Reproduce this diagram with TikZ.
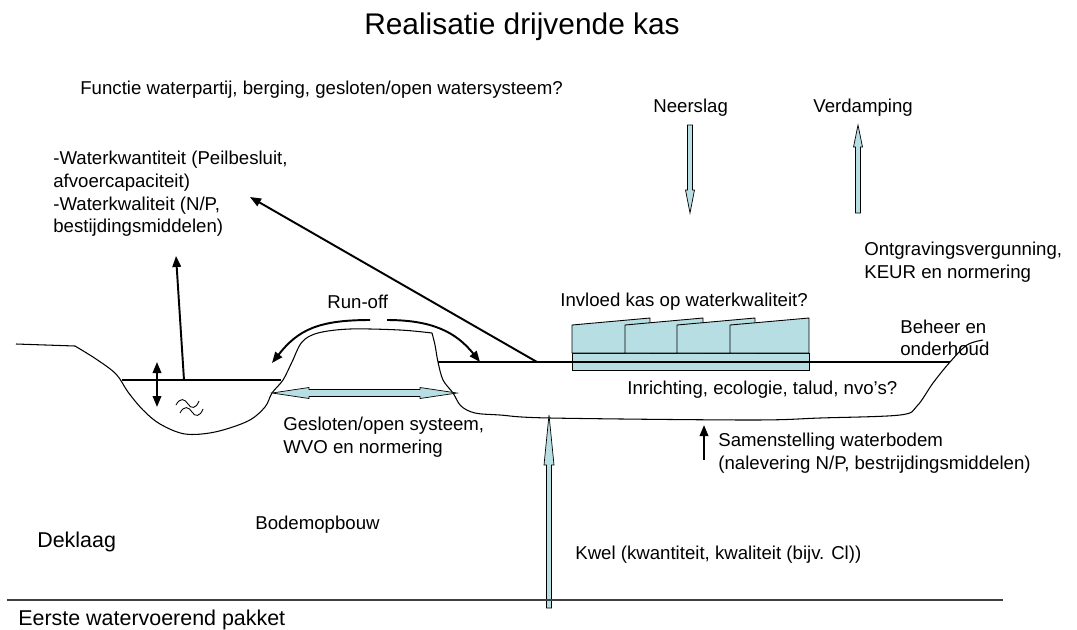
\documentclass[tikz,border=0pt]{standalone}
\usepackage{fontspec}
\setmainfont{Liberation Sans}
\usetikzlibrary{arrows.meta,calc}
\definecolor{kasblauw}{RGB}{183,222,226}
\tikzset{
  tekst/.style={anchor=west,inner sep=0pt,align=left,font=\fontsize{10.6}{12.9}\selectfont},
  groot/.style={tekst,font=\fontsize{12.2}{14}\selectfont},
  pijl/.style={-{Triangle[length=2.2mm,width=1.7mm]},line width=1.1pt},
  blok/.style={fill=kasblauw,draw=black,line width=0.4pt,line join=miter},
  kas/.style={fill=kasblauw,draw=black,line width=0.5pt},
}
\begin{document}
\begin{tikzpicture}[x=0.02cm,y=-0.02cm]
	\useasboundingbox (0,0) rectangle (1077,629);

	% titel en teksten
	\node[font=\fontsize{17}{20}\selectfont,inner sep=0pt] (titel) at (522,27) {Realisatie drijvende kas};
	\node[tekst] (functie) at (80,90) {Functie waterpartij, berging, gesloten/open watersysteem?};
	\node[tekst] (neerslag) at (653,108) {Neerslag};
	\node[tekst] (verdamping) at (813,108) {Verdamping};
	\node[tekst] (water) at (53,194) {-Waterkwantiteit (Peilbesluit,\\afvoercapaciteit)\\-Waterkwaliteit (N/P,\\bestijdingsmiddelen)};
	\node[tekst] (ontgr) at (864,262) {Ontgravingsvergunning,\\KEUR en normering};
	\node[tekst] (runoff) at (327,302) {Run-off};
	\node[tekst] (invloed) at (560,302) {Invloed kas op waterkwaliteit?};
	\node[tekst] (beheer) at (900,338) {Beheer en\\onderhoud};
	\node[tekst] (inrichting) at (627,390) {Inrichting, ecologie, talud, nvo's?};
	\node[tekst] (gesloten) at (283,437) {Gesloten/open systeem,\\WVO en normering};
	\node[tekst] (samenst) at (718,453) {Samenstelling waterbodem\\(nalevering N/P, bestrijdingsmiddelen)};
	\node[tekst] (bodem) at (255,525) {Bodemopbouw};
	\node[groot] (deklaag) at (37,542) {Deklaag};
	\node[tekst] (kwel) at (575,555) {Kwel (kwantiteit, kwaliteit (bijv. Cl))};
	\node[groot] (eerste) at (18,620) {Eerste watervoerend pakket};

	% punten voor de pijlen
	\coordinate (neerA) at (690,125);
	\coordinate (neerB) at (690,213);
	\coordinate (verA) at (858,213);
	\coordinate (verB) at (858,125);
	\coordinate (kwelA) at (549,608);
	\coordinate (kwelB) at (549,415);
	\coordinate (geslA) at (272,393);
	\coordinate (geslB) at (457,393);
	\coordinate (plasA) at (184,380);
	\coordinate (plasB) at (176,256);
	\coordinate (peilA) at (157,362);
	\coordinate (peilB) at (157,407);
	\coordinate (oppA) at (537,362);
	\coordinate (oppB) at (250,197);
	\coordinate (bodA) at (704,460);
	\coordinate (bodB) at (704,425);

	% maaiveld, plas en dijkje
	\draw[line width=0.6pt] (16,344) -- (75,346);
	\draw[line width=0.6pt] plot[smooth,tension=0.55] coordinates {(75,346) (96,359) (116,374) (128,392) (143,410) (160,424) (185,434) (215,432) (248,421) (265,407) (272,393) (283,380) (292,362) (302,342) (318,333) (350,329) (400,330) (432,333)};
	\draw[line width=0.6pt] plot[smooth,tension=0.55] coordinates {(432,333) (435,345) (438,362) (443,380) (453,393) (461,406) (475,413) (500,415) (550,418) (750,420) (820,418) (900,415) (917,406) (933,383) (950,362) (967,345) (983,340)};
	\draw[line width=0.6pt] (122,380) -- (281,380);

	% kas
	\filldraw[kas] (572,353) rectangle (809,370);
	\foreach \x in {572,625,677}
		\filldraw[kas] (\x,353) -- (\x,325) -- (\x+78,318) -- (\x+78,353) -- cycle;
	\filldraw[kas] (730,353) -- (730,325) -- (809,318) -- (809,353) -- cycle;
	\draw[line width=0.6pt] (438,362) -- (950,362);

	% golfjes in de plas
	\draw[line width=0.5pt] (176,405) .. controls (180,397) and (185,399) .. (188,404) .. controls (191,409) and (196,409) .. (199,401);
	\draw[line width=0.5pt] (180,413) .. controls (184,405) and (189,407) .. (192,412) .. controls (195,417) and (200,417) .. (203,409);

	% zwarte pijlen
	\draw[pijl] (plasA) -- (plasB);
	\draw[pijl] (oppA) -- (oppB);
	\draw[pijl] (bodA) -- (bodB);
	\draw[pijl,{Triangle[length=2.2mm,width=1.7mm]}-{Triangle[length=2.2mm,width=1.7mm]}] (peilA) -- (peilB);
	\draw[pijl] (370,320) .. controls (318,320) and (298,330) .. (272,363);
	\draw[pijl] (387,320) .. controls (432,320) and (456,332) .. (480,362);

	% blokpijlen
	\filldraw[blok] ($(neerA)+(-2.5,0)$) -- ($(neerB)+(-2.5,-23)$) -- ($(neerB)+(-4.5,-23)$) -- (neerB) -- ($(neerB)+(4.5,-23)$) -- ($(neerB)+(2.5,-23)$) -- ($(neerA)+(2.5,0)$) -- cycle;
	\filldraw[blok] ($(verA)+(-2.5,0)$) -- ($(verB)+(-2.5,22)$) -- ($(verB)+(-4.5,22)$) -- (verB) -- ($(verB)+(4.5,22)$) -- ($(verB)+(2.5,22)$) -- ($(verA)+(2.5,0)$) -- cycle;
	\filldraw[blok] ($(kwelA)+(-2.5,0)$) -- ($(kwelB)+(-2.5,50)$) -- ($(kwelB)+(-5,50)$) -- (kwelB) -- ($(kwelB)+(5,50)$) -- ($(kwelB)+(2.5,50)$) -- ($(kwelA)+(2.5,0)$) -- cycle;
	\filldraw[blok] (geslA) -- ($(geslA)+(37,-5.5)$) -- ($(geslA)+(37,-3.5)$) -- ($(geslB)+(-37,-3.5)$) -- ($(geslB)+(-37,-5.5)$) -- (geslB) -- ($(geslB)+(-37,5.5)$) -- ($(geslB)+(-37,3.5)$) -- ($(geslA)+(37,3.5)$) -- ($(geslA)+(37,5.5)$) -- cycle;

	% grens deklaag / watervoerend pakket
	\draw[black!75,line width=0.7pt] (7,600) -- (1003,600);
\end{tikzpicture}
\end{document}
